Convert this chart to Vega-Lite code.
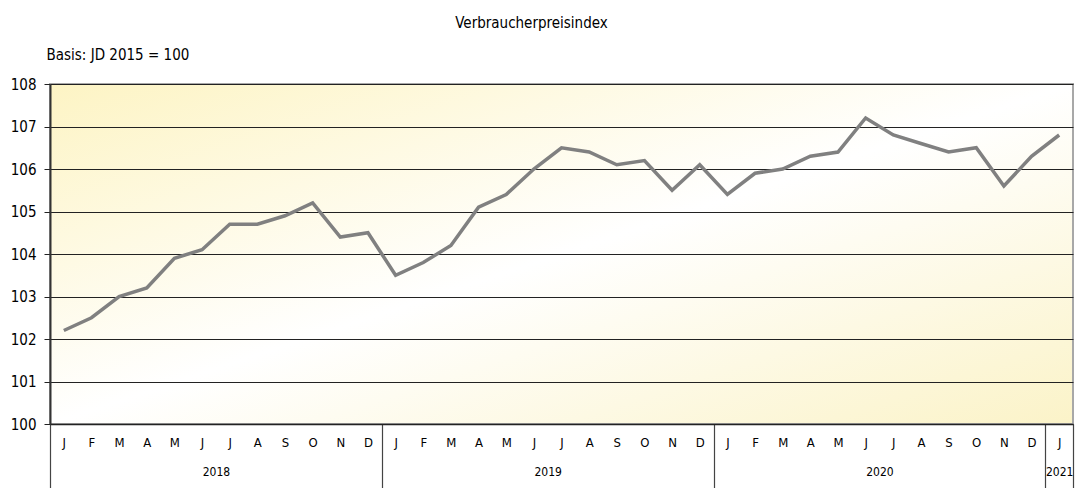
{
  "$schema": "https://vega.github.io/schema/vega-lite/v6.json",
  "autosize": {"type": "none"},
  "width": 1023,
  "height": 340,
  "padding": {"left": 50, "top": 84, "right": 4, "bottom": 64},
  "background": "white",
  "title": {"text": "Verbraucherpreisindex", "anchor": "middle", "offset": 16, "dx": -30, "fontSize": 15, "fontWeight": "normal", "font": "'DejaVu Sans Condensed', 'Liberation Sans Narrow', 'Open Sans', sans-serif", "color": "#000"},
  "config": {
    "view": {
      "stroke": "#a8a8a8",
      "strokeWidth": 2,
      "fill": {"gradient": "linear", "x1": 0, "y1": 0, "x2": 1, "y2": 1, "stops": [{"offset": 0, "color": "#fdf4c4"}, {"offset": 0.5, "color": "#ffffff"}, {"offset": 1, "color": "#fbf3c8"}]}
    },
    "axis": {"labelFont": "'DejaVu Sans Condensed', 'Liberation Sans Narrow', 'Open Sans', sans-serif", "titleFont": "'DejaVu Sans Condensed', 'Liberation Sans Narrow', 'Open Sans', sans-serif", "labelColor": "#000", "titleColor": "#000"}
  },
  "data": {"values": [
    {"idx": 0, "year": 2018, "month": "Jan", "value": 102.2},
    {"idx": 1, "year": 2018, "month": "Feb", "value": 102.5},
    {"idx": 2, "year": 2018, "month": "Mär", "value": 103.0},
    {"idx": 3, "year": 2018, "month": "Apr", "value": 103.2},
    {"idx": 4, "year": 2018, "month": "Mai", "value": 103.9},
    {"idx": 5, "year": 2018, "month": "Jun", "value": 104.1},
    {"idx": 6, "year": 2018, "month": "Jul", "value": 104.7},
    {"idx": 7, "year": 2018, "month": "Aug", "value": 104.7},
    {"idx": 8, "year": 2018, "month": "Sep", "value": 104.9},
    {"idx": 9, "year": 2018, "month": "Okt", "value": 105.2},
    {"idx": 10, "year": 2018, "month": "Nov", "value": 104.4},
    {"idx": 11, "year": 2018, "month": "Dez", "value": 104.5},
    {"idx": 12, "year": 2019, "month": "Jan", "value": 103.5},
    {"idx": 13, "year": 2019, "month": "Feb", "value": 103.8},
    {"idx": 14, "year": 2019, "month": "Mär", "value": 104.2},
    {"idx": 15, "year": 2019, "month": "Apr", "value": 105.1},
    {"idx": 16, "year": 2019, "month": "Mai", "value": 105.4},
    {"idx": 17, "year": 2019, "month": "Jun", "value": 106.0},
    {"idx": 18, "year": 2019, "month": "Jul", "value": 106.5},
    {"idx": 19, "year": 2019, "month": "Aug", "value": 106.4},
    {"idx": 20, "year": 2019, "month": "Sep", "value": 106.1},
    {"idx": 21, "year": 2019, "month": "Okt", "value": 106.2},
    {"idx": 22, "year": 2019, "month": "Nov", "value": 105.5},
    {"idx": 23, "year": 2019, "month": "Dez", "value": 106.1},
    {"idx": 24, "year": 2020, "month": "Jan", "value": 105.4},
    {"idx": 25, "year": 2020, "month": "Feb", "value": 105.9},
    {"idx": 26, "year": 2020, "month": "Mär", "value": 106.0},
    {"idx": 27, "year": 2020, "month": "Apr", "value": 106.3},
    {"idx": 28, "year": 2020, "month": "Mai", "value": 106.4},
    {"idx": 29, "year": 2020, "month": "Jun", "value": 107.2},
    {"idx": 30, "year": 2020, "month": "Jul", "value": 106.8},
    {"idx": 31, "year": 2020, "month": "Aug", "value": 106.6},
    {"idx": 32, "year": 2020, "month": "Sep", "value": 106.4},
    {"idx": 33, "year": 2020, "month": "Okt", "value": 106.5},
    {"idx": 34, "year": 2020, "month": "Nov", "value": 105.6},
    {"idx": 35, "year": 2020, "month": "Dez", "value": 106.3},
    {"idx": 36, "year": 2021, "month": "Jan", "value": 106.8}
  ]},
  "resolve": {"axis": {"x": "independent"}},
  "layer": [
    {
      "mark": {"type": "line", "strokeOpacity": 0},
      "encoding": {
        "x": {"field": "idx", "type": "quantitative", "scale": {"domain": [-0.5, 36.5], "nice": false, "zero": false},
          "axis": {"orient": "bottom", "values": [-0.5, 11.5, 23.5, 35.5, 36.5], "labels": false, "domain": false, "grid": false, "ticks": true, "tickSize": 64, "tickColor": "#444", "tickWidth": 1.2, "title": null}},
        "y": {"field": "value", "type": "quantitative", "scale": {"domain": [100, 108], "nice": false, "zero": false},
          "axis": {"values": [100, 101, 102, 103, 104, 105, 106, 107, 108], "grid": true, "gridColor": "#222", "gridWidth": 1, "gridOpacity": 1, "domainColor": "#333", "domainWidth": 2, "tickColor": "#222", "tickSize": 6, "labelFontSize": 15, "labelPadding": 8,
            "title": "Basis: JD 2015 = 100", "titleAngle": 0, "titleAlign": "left", "titleBaseline": "middle", "titleX": -4, "titleY": -30, "titleFontSize": 15, "titleFontWeight": "normal"}}
      }
    },
    {
      "mark": {"type": "line", "strokeOpacity": 0},
      "encoding": {
        "x": {"field": "idx", "type": "quantitative",
          "axis": {"orient": "bottom", "values": [5.5, 17.5, 29.5, 36], "labelExpr": "toString(2018 + floor((datum.value + 0.5) / 12))", "ticks": false, "domain": false, "grid": false, "labelFontSize": 12, "labelPadding": 42, "labelFlush": false, "labelOverlap": false, "title": null}},
        "y": {"field": "value", "type": "quantitative"}
      }
    },
    {
      "mark": {"type": "line", "color": "#808080", "strokeWidth": 3.5},
      "encoding": {
        "x": {"field": "idx", "type": "quantitative",
          "axis": {"orient": "bottom", "values": [0, 1, 2, 3, 4, 5, 6, 7, 8, 9, 10, 11, 12, 13, 14, 15, 16, 17, 18, 19, 20, 21, 22, 23, 24, 25, 26, 27, 28, 29, 30, 31, 32, 33, 34, 35, 36],
            "labelExpr": "['J','F','M','A','M','J','J','A','S','O','N','D'][datum.value % 12]", "ticks": false, "domain": true, "domainColor": "#222", "domainWidth": 1.5, "grid": false, "labelFontSize": 13, "labelPadding": 12, "labelFlush": false, "labelOverlap": false, "title": null}},
        "y": {"field": "value", "type": "quantitative"}
      }
    }
  ]
}
